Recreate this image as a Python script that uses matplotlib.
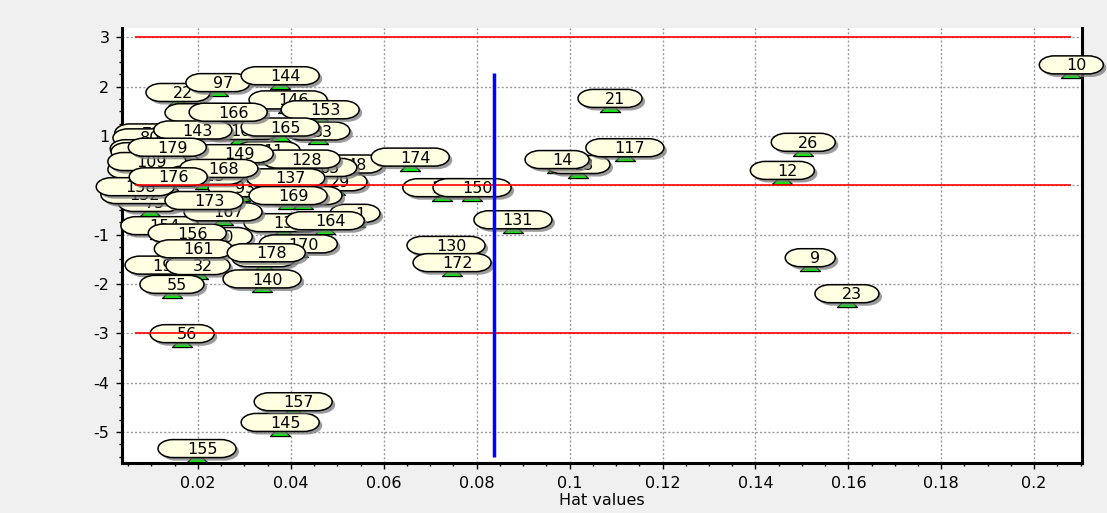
import matplotlib
matplotlib.use("Agg")
import matplotlib.pyplot as plt
from matplotlib.path import Path
from matplotlib.patches import PathPatch
from matplotlib import transforms, patheffects
from matplotlib.ticker import MultipleLocator, FuncFormatter

plt.rcParams["font.family"] = ["DejaVu Sans"]
plt.rcParams["axes.unicode_minus"] = False

# Observation labels, leverage (hat values) and studentized residuals
obs = ["10", "21", "26", "12", "9", "23", "117", "14", "13", "150",
       "147", "131", "130", "172", "174", "144", "97", "22", "146", "153",
       "166", "118", "165", "33", "143", "104", "179", "149", "11", "128",
       "48", "65", "168", "176", "113", "158", "137", "29", "169", "126",
       "173", "167", "152", "75", "154", "156", "120", "161", "19", "32",
       "55", "56", "157", "145", "155", "140", "178", "98", "170", "164",
       "1", "139", "72", "80", "43", "88", "101", "109", "62", "93"]
hat = [0.2080, 0.1087, 0.1503, 0.1458, 0.1518, 0.1597, 0.1119, 0.0973, 0.1018, 0.0790,
       0.0725, 0.0878, 0.0734, 0.0747, 0.0657, 0.0377, 0.0243, 0.0157, 0.0394, 0.0463,
       0.0265, 0.0213, 0.0377, 0.0458, 0.0189, 0.0291, 0.0134, 0.0278, 0.0351, 0.0422,
       0.0530, 0.0473, 0.0245, 0.0136, 0.0215, 0.0065, 0.0389, 0.0495, 0.0394, 0.0426,
       0.0213, 0.0254, 0.0075, 0.0097, 0.0118, 0.0177, 0.0233, 0.0190, 0.0112, 0.0200,
       0.0144, 0.0166, 0.0405, 0.0377, 0.0198, 0.0338, 0.0347, 0.0342, 0.0416, 0.0474,
       0.0538, 0.0383, 0.0090, 0.0086, 0.0097, 0.0080, 0.0097, 0.0090, 0.0075, 0.0291]
stud_res = [2.27, 1.59, 0.70, 0.13, -1.64, -2.37, 0.59, 0.35, 0.25, -0.22,
            -0.22, -0.87, -1.39, -1.74, 0.40, 2.05, 1.91, 1.71, 1.56, 1.36,
            1.31, 1.30, 1.01, 0.93, 0.95, 0.94, 0.60, 0.47, 0.53, 0.36,
            0.26, 0.19, 0.17, 0.00, 0.03, -0.20, -0.02, -0.10, -0.38, -0.38,
            -0.48, -0.71, -0.36, -0.52, -0.99, -1.14, -1.21, -1.46, -1.79, -1.80,
            -2.18, -3.18, -4.56, -4.98, -5.51, -2.07, -1.54, -1.64, -1.36, -0.89,
            -0.74, -0.93, 0.89, 0.79, 0.72, 0.57, 0.51, 0.31, 0.15, -0.22]

n_obs = 179
n_params = 5
hat_cut = 3 * n_params / n_obs
res_limits = [-3, 0, 3]

W_PX, H_PX = 1107, 513
fig = plt.figure(figsize=(W_PX / 100, H_PX / 100), dpi=100, facecolor="#f0f0f0")
ax = fig.add_axes([122 / W_PX, (H_PX - 463) / H_PX, 960 / W_PX, 435 / H_PX])
ax.set_facecolor("white")


def balloon_path(w, h, rx):
    """Pill-shaped callout outline centred on the origin, in pixels."""
    k = 0.5523
    l, r, b, t = -w / 2, w / 2, -h / 2, h / 2
    ry = h / 2
    verts = [(l + rx, b), (r - rx, b),
             (r - rx + k * rx, b), (r, -k * ry), (r, 0),
             (r, k * ry), (r - rx + k * rx, t), (r - rx, t),
             (l + rx, t),
             (l + rx - k * rx, t), (l, k * ry), (l, 0),
             (l, -k * ry), (l + rx - k * rx, b), (l + rx, b),
             (l + rx, b)]
    codes = ([Path.MOVETO, Path.LINETO] + [Path.CURVE4] * 6 + [Path.LINETO]
             + [Path.CURVE4] * 6 + [Path.CLOSEPOLY])
    return Path(verts, codes)


# flattened triangle pointer
pointer = Path([(-1, -0.5), (1, -0.5), (0, 0.5), (-1, -0.5)],
               [Path.MOVETO, Path.LINETO, Path.LINETO, Path.CLOSEPOLY])
ax.plot(hat, stud_res, linestyle="none", marker=pointer, markersize=14.5,
        markerfacecolor="#00ff00", markeredgecolor="black", markeredgewidth=0.9,
        zorder=3, clip_on=False)

lift = 8.5
bal_h = 18
order = sorted(range(len(obs)), key=lambda i: int(obs[i]))
for rank, i in enumerate(order):
    lbl = obs[i]
    bal_w = 36 + 14 * len(lbl)
    trans = (transforms.Affine2D().translate(0, lift)
             + transforms.ScaledTranslation(hat[i], stud_res[i], ax.transData))
    patch = PathPatch(balloon_path(bal_w, bal_h, 15), facecolor="#ffffe1",
                      edgecolor="black", linewidth=1.1, transform=trans,
                      clip_on=False, zorder=10 + 2 * rank)
    patch.set_path_effects([
        patheffects.SimplePatchShadow(offset=(2.2, -2.2), shadow_rgbFace="#7a7a7a", alpha=0.75),
        patheffects.Normal()])
    ax.add_patch(patch)
    ax.annotate(lbl, (hat[i], stud_res[i]), xytext=(5, lift - 5.6),
                textcoords="offset pixels", ha="center", va="baseline",
                fontsize=11.5, color="black", zorder=11 + 2 * rank,
                annotation_clip=False)

# reference levels for residuals and the leverage cut-off
ax.hlines(res_limits, min(hat), max(hat), colors="#ff0000", linewidth=1.2, zorder=500)
ax.vlines(hat_cut, min(stud_res), max(stud_res), colors="#0000ff", linewidth=2.5,
          zorder=501)

ax.set_xlim(0.00365, 0.2103)
ax.set_ylim(-5.63, 3.19)

ax.xaxis.set_major_locator(MultipleLocator(0.02))
ax.xaxis.set_minor_locator(MultipleLocator(0.005))
ax.yaxis.set_major_locator(MultipleLocator(1))
ax.yaxis.set_minor_locator(MultipleLocator(0.25))
ax.xaxis.set_major_formatter(FuncFormatter(lambda v, p: f"{v:g}"))
ax.yaxis.set_major_formatter(FuncFormatter(lambda v, p: f"{int(round(v))}"))

ax.grid(True, which="major", color="#9a9a9a", linestyle=(0, (1.5, 1.5)),
        linewidth=1, zorder=0)
ax.set_axisbelow(True)

ax.tick_params(which="major", direction="out", length=4, width=1, labelsize=11.5,
               pad=5, colors="black")
ax.tick_params(which="minor", direction="out", length=2.5, width=1)

for side in ("left", "bottom", "right"):
    ax.spines[side].set_linewidth(2.2)
    ax.spines[side].set_color("black")
ax.spines["top"].set_visible(False)

ax.set_xlabel("Hat values", fontsize=11.5, labelpad=2)

fig.savefig("out.png", dpi=100, facecolor=fig.get_facecolor())
